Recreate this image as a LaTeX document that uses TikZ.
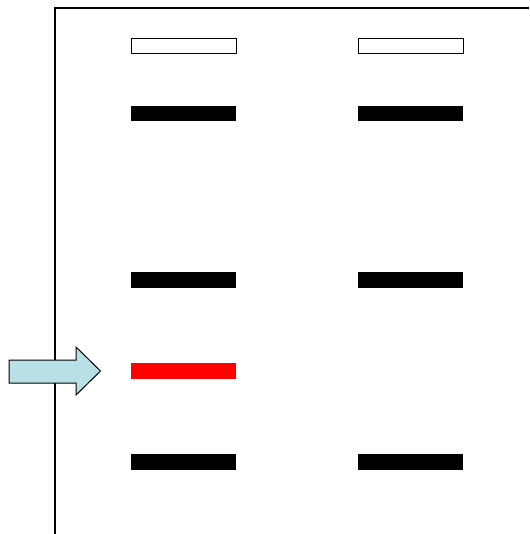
\documentclass[tikz,border=0pt]{standalone}
\usepackage{tikz}
\definecolor{paleblue}{RGB}{185, 224, 230}
\tikzset{
  well/.style={draw=black, line width=0.8pt, fill=white},
  band/.style={fill=black},
}

\begin{document}
\begin{tikzpicture}[x=1pt, y=-1pt, line join=miter]
    \useasboundingbox (0,0) rectangle (529,534);

    % Khung gel
    \draw[line width=1.6pt] (55,534) -- (55,8) -- (529,8);

    % Giếng
    \foreach \xl in {131, 358}
        \draw[well] (\xl,38.5) rectangle ++(105,14.5);

    % Các vạch
    \foreach \xl in {131, 358}
        \foreach \yt in {106, 272, 454}
            \fill[band] (\xl,\yt) rectangle ++(105,15.5);
    \fill[red] (131,363) rectangle ++(105,16);

    % Mũi tên
    \draw[line width=1pt, fill=paleblue]
        (9,360) -- (76,360) -- (76,347) -- (100.5,371) -- (76,395)
        -- (76,383) -- (9,383) -- cycle;
\end{tikzpicture}
\end{document}
